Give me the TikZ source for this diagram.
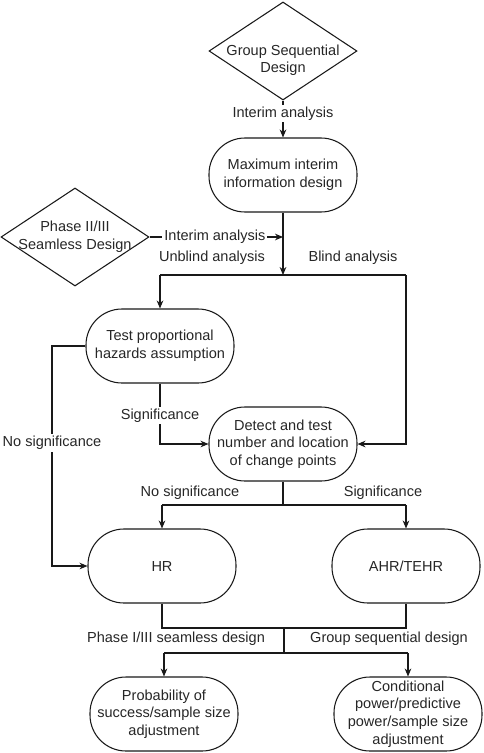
\documentclass[tikz,border=0pt]{standalone}
\usepackage{fontspec}
\setmainfont{Liberation Sans}
\usetikzlibrary{shapes.geometric,arrows.meta}

\begin{document}
\begin{tikzpicture}[x=0.75pt, y=-0.75pt,
		every node/.style={font=\fontsize{10.9}{13.3}\selectfont, text=black!85},
		decision/.style={draw=black!90, line width=0.8pt, diamond, minimum width=111pt, minimum height=73.5pt, inner sep=0pt},
		stadium/.style={draw=black!90, line width=0.8pt, rectangle, rounded corners=27pt, minimum width=111pt, minimum height=55.5pt, inner sep=0pt, align=center},
		flow/.style={line width=0.8pt, draw=black!90},
		arrow/.style={flow, -{Stealth[length=6pt, width=5pt]}},
		tag/.style={fill=white, inner sep=1.5pt}]
		%%%%% START %%%%%
		
		\useasboundingbox (0, 0) rectangle (484, 753);
		
		\node[decision, label={[align=center, yshift=-7pt]center:Group Sequential\\Design}] (gsd) at (283, 51) {};
		\node[stadium] (miid) at (283, 175) {Maximum interim\\information design};
		\node[decision, label={[align=center]center:Phase II/III\\Seamless Design}] (phase) at (75, 237) {};
		
		\node[stadium] (tph) at (160, 346) {Test proportional\\hazards assumption};
		\node[stadium] (detect) at (283, 444) {Detect and test\\number and location\\of change points};
		
		\node[stadium] (hr) at (162, 566) {HR};
		\node[stadium] (ahr) at (406, 566) {AHR/TEHR};
		
		\node[stadium] (pos) at (164, 714) {Probability of\\success/sample size\\adjustment};
		\node[stadium] (cp) at (408, 714) {Conditional\\power/predictive\\power/sample size\\adjustment};
		
		\coordinate (ia) at (283, 237);
		\coordinate (split) at (283, 275);
		\coordinate (ub) at (160, 275);
		\coordinate (bl) at (406, 275);
		\coordinate (nsbend) at (52, 346);
		\coordinate (dsplit) at (283, 505);
		\coordinate (dl) at (162, 505);
		\coordinate (dr) at (406, 505);
		\coordinate (merge) at (284, 628);
		\coordinate (msplit) at (284, 653);
		\coordinate (ml) at (164, 653);
		\coordinate (mr) at (408, 653);
		
		\draw[arrow] (gsd.south) -- node[tag, pos=0.35] {Interim analysis} (miid.north);
		\draw[arrow] (phase.east) -- node[tag, pos=0.49] {Interim analysis} (ia);
		\draw[arrow] (miid.south) -- (split);
		
		\draw[flow] (ub) -- (bl);
		\draw[arrow] (ub) -- (tph.north);
		\draw[arrow] (bl) |- (detect.east);
		\node (unblind) at (212, 258) {Unblind analysis};
		\node (blind) at (353, 258) {Blind analysis};
		
		\draw[arrow] (tph.west) -- (nsbend) |- node[tag, pos=0.22] {No significance} (hr.west);
		\draw[arrow] (tph.south) |- node[tag, pos=0.265] {Significance} (detect.west);
		
		\draw[flow] (detect.south) -- (dsplit);
		\draw[flow] (dl) -- (dr);
		\draw[arrow] (dl) -- (hr.north);
		\draw[arrow] (dr) -- (ahr.north);
		\node (nosig) at (190, 493) {No significance};
		\node (sig) at (383, 493) {Significance};
		
		\draw[flow] (hr.south) -- (hr.south |- merge) -- (ahr.south |- merge) -- (ahr.south);
		\draw[flow] (merge) -- (msplit);
		\draw[flow] (ml) -- (mr);
		\draw[arrow] (ml) -- (pos.north);
		\draw[arrow] (mr) -- (cp.north);
		\node (seamless) at (176, 639) {Phase I/III seamless design};
		\node (groupseq) at (389, 639) {Group sequential design};
		
		%%%%% END %%%%%
	\end{tikzpicture}
\end{document}
